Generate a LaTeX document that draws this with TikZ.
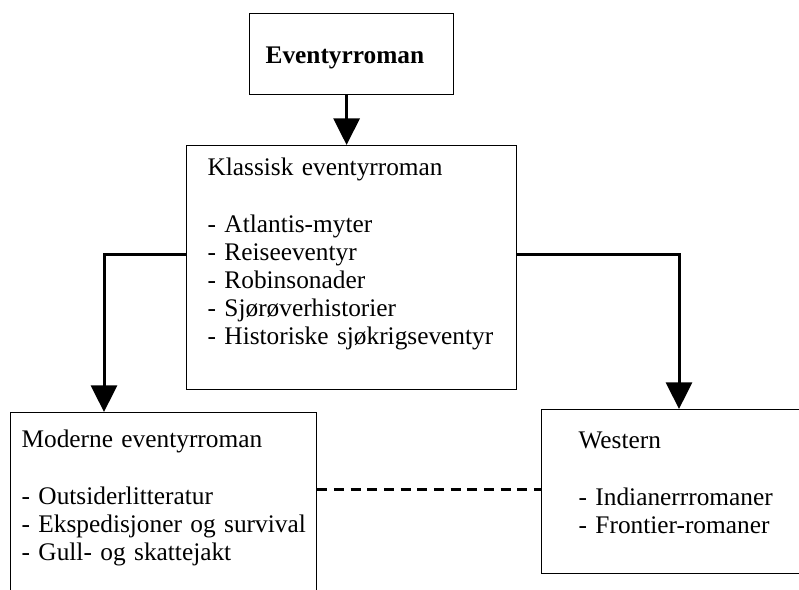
\documentclass[tikz,border=0pt]{standalone}
\usepackage{fontspec}
\setmainfont{Liberation Serif}
\usetikzlibrary{arrows.meta}

\begin{document}
\begin{tikzpicture}[x=0.75pt, y=-0.75pt,
    genrebox/.style={draw, line width=0.9pt, anchor=north west, align=left,
      inner ysep=0pt, font=\fontsize{19}{21}\selectfont},
    pil/.style={line width=2.25pt, -{Triangle[width=19.5pt,length=20pt]}},
    stiplet/.style={line width=2.25pt, dash pattern=on 7.5pt off 5pt}]
  \clip (0,0) rectangle (799,589);
  \node[genrebox, inner xsep=12pt, text width=129pt, text height=37.5pt, text depth=23.25pt,
    font=\bfseries\fontsize{19}{21}\selectfont] (eventyr) at (249,13) {Eventyrroman};
  \node[genrebox, inner xsep=15.75pt, text width=216pt, text height=22.5pt, text depth=160.5pt]
    (klassisk) at (186,145) {Klassisk eventyrroman\\[22pt]
      \mbox{- Atlantis-myter}\\
      \mbox{- Reiseeventyr}\\
      \mbox{- Robinsonader}\\
      \mbox{- Sjørøverhistorier}\\
      \mbox{- Historiske sjøkrigseventyr}};
  \node[genrebox, inner xsep=8.25pt, text width=213pt, text height=26.25pt, text depth=114.75pt]
    (moderne) at (10,412) {Moderne eventyrroman\\[22pt]
      \mbox{- Outsiderlitteratur}\\
      \mbox{- Ekspedisjoner og survival}\\
      \mbox{- Gull- og skattejakt}};
  \node[genrebox, inner xsep=27.75pt, text width=153.75pt, text height=29.25pt, text depth=93.75pt]
    (western) at (541,409) {Western\\[22pt]
      \mbox{- Indianerrromaner}\\
      \mbox{- Frontier-romaner}};
  % piler
  \draw[pil] ([xshift=-3.75pt]eventyr.south) -- ([xshift=-3.75pt]klassisk.north);
  \draw[pil] ([yshift=-81.75pt]klassisk.north west) -| ([xshift=70.5pt]moderne.north west);
  \draw[pil] ([yshift=-81.75pt]klassisk.north east) -| ([xshift=103.5pt]western.north west);
  \coordinate (stipla) at ([yshift=-57.75pt]moderne.north east);
  \draw[stiplet] (stipla) -- (stipla -| western.west);
\end{tikzpicture}
\end{document}
